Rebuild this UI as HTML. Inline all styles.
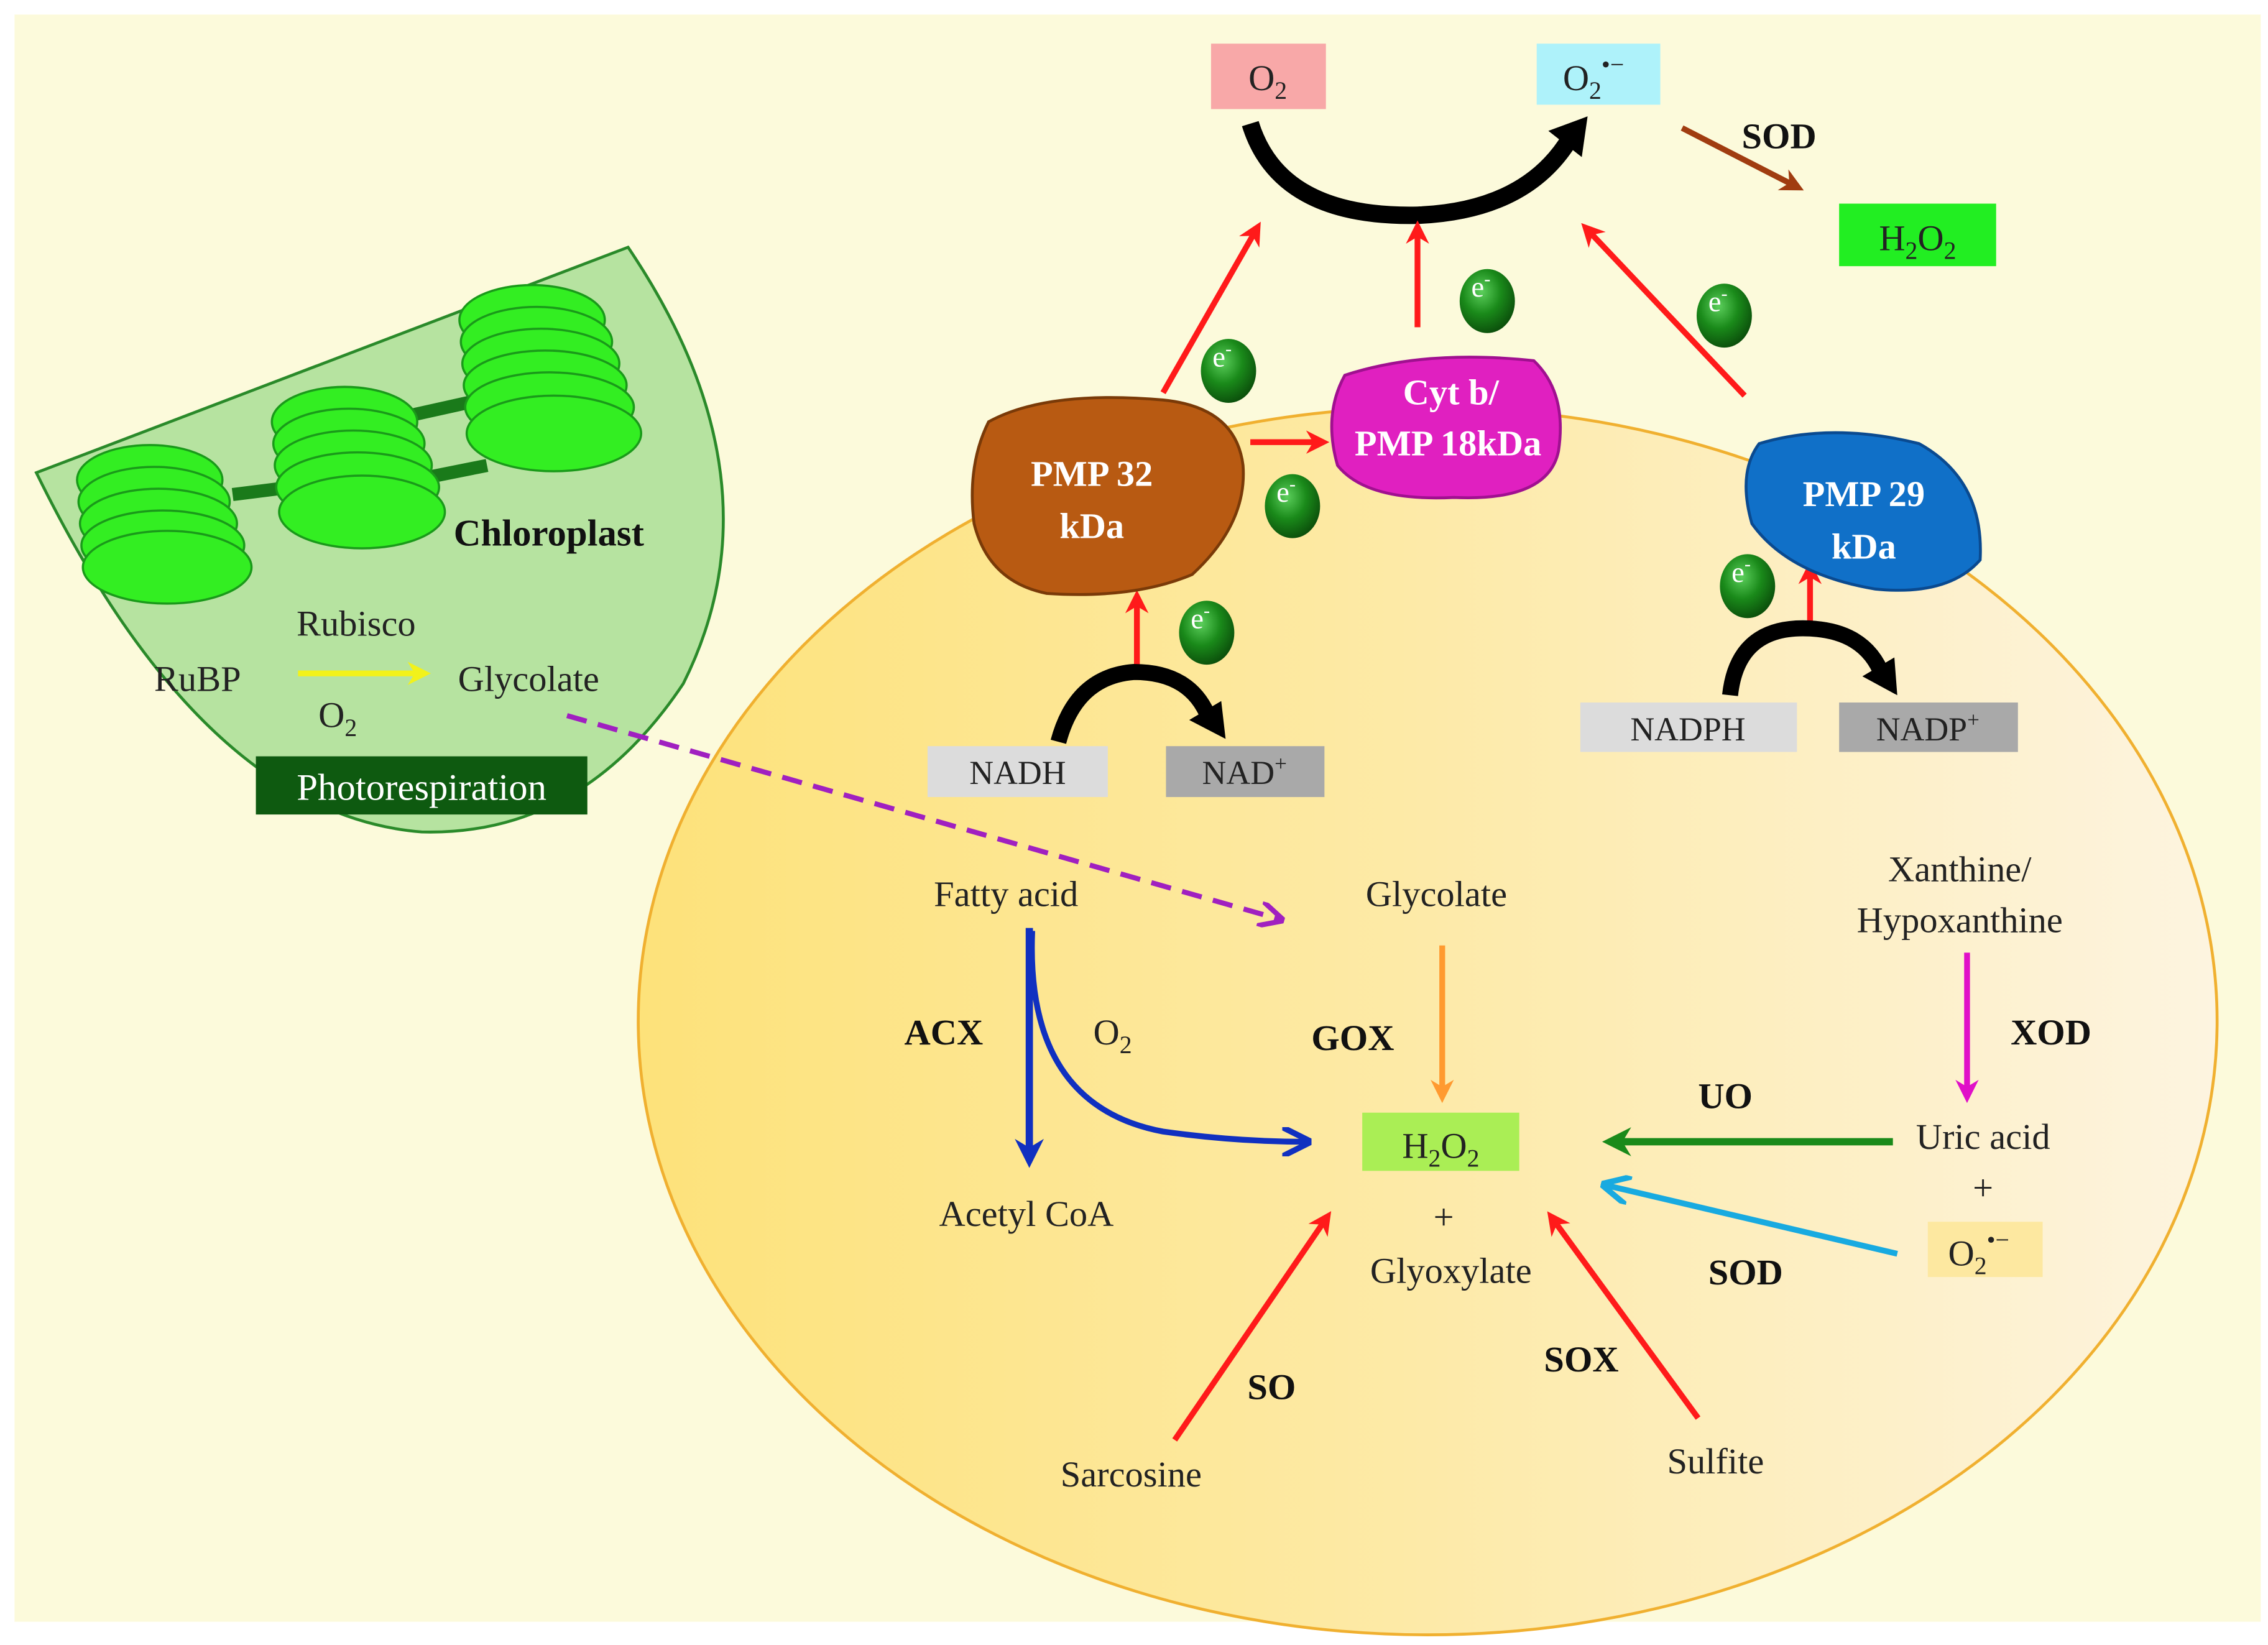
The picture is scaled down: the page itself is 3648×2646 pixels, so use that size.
<!DOCTYPE html>
<html><head><meta charset="utf-8"><style>
html,body{margin:0;padding:0;background:#fff}
svg{display:block}
text{font-family:"Liberation Serif",serif;fill:#222}
.b{font-weight:bold;fill:#111}
</style></head><body>
<svg width="3648" height="2646" viewBox="0 0 1560 1131" preserveAspectRatio="none" xmlns="http://www.w3.org/2000/svg">
<defs>
<linearGradient id="cell" x1="0" x2="1" y1="0" y2="0">
<stop offset="0" stop-color="#fde27a"/><stop offset="0.5" stop-color="#fdeaa8"/><stop offset="1" stop-color="#fdf4e0"/></linearGradient>
<radialGradient id="eg" cx="0.4" cy="0.35" r="0.7"><stop offset="0" stop-color="#5ccf5c"/><stop offset="0.5" stop-color="#1a8a1a"/><stop offset="1" stop-color="#0a4a0a"/></radialGradient>
<marker id="ar" viewBox="0 0 10 10" refX="6" refY="5" markerWidth="4" markerHeight="4" orient="auto-start-reverse"><path d="M0,0 L10,5 L0,10 L3,5z" fill="context-stroke"/></marker>
<marker id="ao" viewBox="0 0 10 10" refX="8" refY="5" markerWidth="5" markerHeight="5" orient="auto"><path d="M0,0 L10,5 L0,10" fill="none" stroke="context-stroke" stroke-width="2"/></marker>
</defs>
<rect x="0" y="0" width="1560" height="1131" fill="#fff"/>
<rect x="10" y="10" width="1545" height="1105" fill="#fcfadb"/>
<ellipse cx="982" cy="702" rx="543" ry="422" fill="url(#cell)" stroke="#f0b030" stroke-width="2"/>
<!-- chloroplast -->
<path d="M25,325 L432,170 Q540,330 470,470 Q400,575 290,572 Q140,560 25,325z" fill="#b6e3a0" stroke="#2a8a2a" stroke-width="2"/>
<g stroke="#1a7a1a" stroke-width="9">
<line x1="160" y1="340" x2="200" y2="335"/><line x1="285" y1="285" x2="330" y2="275"/><line x1="285" y1="330" x2="335" y2="320"/></g>
<g fill="#33ee22" stroke="#1a9a1a" stroke-width="1.5">
<ellipse cx="103" cy="330" rx="50" ry="24"/><ellipse cx="106" cy="345" rx="52" ry="24"/><ellipse cx="109" cy="360" rx="54" ry="24"/><ellipse cx="112" cy="375" rx="56" ry="24"/><ellipse cx="115" cy="390" rx="58" ry="25"/>
<ellipse cx="237" cy="290" rx="50" ry="24"/><ellipse cx="240" cy="305" rx="52" ry="24"/><ellipse cx="243" cy="320" rx="54" ry="24"/><ellipse cx="246" cy="335" rx="56" ry="24"/><ellipse cx="249" cy="352" rx="57" ry="25"/>
<ellipse cx="366" cy="220" rx="50" ry="24"/><ellipse cx="369" cy="235" rx="52" ry="24"/><ellipse cx="372" cy="250" rx="54" ry="24"/><ellipse cx="375" cy="265" rx="56" ry="24"/><ellipse cx="378" cy="280" rx="58" ry="24"/><ellipse cx="381" cy="298" rx="60" ry="26"/></g>
<text x="312" y="375" font-size="26" class="b">Chloroplast</text>
<text x="204" y="437" font-size="25">Rubisco</text>
<text x="106" y="475" font-size="25">RuBP</text>
<text x="315" y="475" font-size="25">Glycolate</text>
<text x="219" y="500" font-size="25">O<tspan font-size="17" dy="6">2</tspan></text>
<line x1="205" y1="463" x2="290" y2="463" stroke="#f2f21a" stroke-width="4" marker-end="url(#ar)"/>
<rect x="176" y="520" width="228" height="40" fill="#0e5a10"/>
<text x="290" y="550" font-size="26" text-anchor="middle" style="fill:#fff">Photorespiration</text>
<path d="M390,492 L880,632" stroke="#a020c0" stroke-width="3.5" stroke-dasharray="14,8" fill="none" marker-end="url(#ao)"/>
<!-- top boxes -->
<rect x="833" y="30" width="79" height="45" fill="#f8a8a8"/>
<text x="872" y="62" font-size="25" text-anchor="middle">O<tspan font-size="17" dy="6">2</tspan></text>
<rect x="1057" y="30" width="85" height="42" fill="#aef2fa"/>
<text x="1075" y="62" font-size="25">O<tspan font-size="17" dy="6">2</tspan><tspan font-size="17" dy="-18">•−</tspan></text>
<path d="M860,85 Q880,150 975,148 Q1050,145 1080,95" stroke="#000" stroke-width="12" fill="none"/>
<path d="M1065,90 L1092,80 L1088,108z" fill="#000"/>
<line x1="1157" y1="88" x2="1235" y2="128" stroke="#a03c10" stroke-width="4" marker-end="url(#ar)"/>
<text x="1198" y="102" font-size="25" class="b">SOD</text>
<rect x="1265" y="140" width="108" height="43" fill="#22ee22"/>
<text x="1319" y="172" font-size="25" text-anchor="middle">H<tspan font-size="17" dy="6">2</tspan><tspan dy="-6">O</tspan><tspan font-size="17" dy="6">2</tspan></text>
<!-- red arrows -->
<g stroke="#ff1a1a" stroke-width="4" fill="none" marker-end="url(#ar)">
<line x1="800" y1="270" x2="864" y2="158"/>
<line x1="975" y1="225" x2="975" y2="158"/>
<line x1="1200" y1="272" x2="1092" y2="158"/>
<line x1="860" y1="304" x2="908" y2="304"/>
<line x1="782" y1="462" x2="782" y2="412"/>
<line x1="1245" y1="430" x2="1245" y2="392"/>
<line x1="808" y1="990" x2="912" y2="838"/>
<line x1="1168" y1="975" x2="1068" y2="838"/>
</g>
<!-- proteins -->
<path d="M680,290 Q720,268 800,275 Q850,280 855,320 Q858,360 820,395 Q780,412 720,408 Q680,400 670,360 Q665,320 680,290z" fill="#b85a12" stroke="#7a3a08" stroke-width="2"/>
<text x="751" y="334" font-size="25" class="b" text-anchor="middle" style="fill:#fff">PMP 32</text>
<text x="751" y="370" font-size="25" class="b" text-anchor="middle" style="fill:#fff">kDa</text>
<path d="M925,258 Q980,240 1055,248 Q1078,270 1072,310 Q1065,345 1000,342 Q940,345 920,320 Q910,285 925,258z" fill="#e020c0" stroke="#a01090" stroke-width="2"/>
<text x="998" y="278" font-size="25" class="b" text-anchor="middle" style="fill:#fff">Cyt b/</text>
<text x="996" y="313" font-size="25" class="b" text-anchor="middle" style="fill:#fff">PMP 18kDa</text>
<path d="M1210,305 Q1260,290 1320,305 Q1365,330 1362,385 Q1340,410 1290,405 Q1230,395 1205,360 Q1195,325 1210,305z" fill="#1070c8" stroke="#0a4a90" stroke-width="2"/>
<text x="1282" y="348" font-size="25" class="b" text-anchor="middle" style="fill:#fff">PMP 29</text>
<text x="1282" y="384" font-size="25" class="b" text-anchor="middle" style="fill:#fff">kDa</text>
<!-- electrons -->
<g>
<ellipse cx="845" cy="255" rx="19" ry="22" fill="url(#eg)"/><ellipse cx="1023" cy="207" rx="19" ry="22" fill="url(#eg)"/>
<ellipse cx="889" cy="348" rx="19" ry="22" fill="url(#eg)"/><ellipse cx="1186" cy="217" rx="19" ry="22" fill="url(#eg)"/>
<ellipse cx="830" cy="435" rx="19" ry="22" fill="url(#eg)"/><ellipse cx="1202" cy="403" rx="19" ry="22" fill="url(#eg)"/>
</g>
<g font-size="20" style="fill:#fff">
<text x="834" y="252" style="fill:#fff">e<tspan font-size="13" dy="-8">-</tspan></text>
<text x="1012" y="204" style="fill:#fff">e<tspan font-size="13" dy="-8">-</tspan></text>
<text x="878" y="345" style="fill:#fff">e<tspan font-size="13" dy="-8">-</tspan></text>
<text x="1175" y="214" style="fill:#fff">e<tspan font-size="13" dy="-8">-</tspan></text>
<text x="819" y="432" style="fill:#fff">e<tspan font-size="13" dy="-8">-</tspan></text>
<text x="1191" y="400" style="fill:#fff">e<tspan font-size="13" dy="-8">-</tspan></text>
</g>
<!-- NADH -->
<path d="M728,510 Q740,465 780,462 Q820,462 832,495" stroke="#000" stroke-width="11" fill="none"/>
<path d="M818,495 L843,508 L840,482z" fill="#000"/>
<rect x="638" y="513" width="124" height="35" fill="#dcdcdc"/>
<text x="700" y="539" font-size="23" text-anchor="middle">NADH</text>
<rect x="802" y="513" width="109" height="35" fill="#a9a9a9"/>
<text x="856" y="539" font-size="23" text-anchor="middle">NAD<tspan font-size="15" dy="-9">+</tspan></text>
<path d="M1190,478 Q1195,432 1240,432 Q1283,432 1295,465" stroke="#000" stroke-width="11" fill="none"/>
<path d="M1281,465 L1305,478 L1303,452z" fill="#000"/>
<rect x="1087" y="483" width="149" height="34" fill="#dcdcdc"/>
<text x="1161" y="509" font-size="23" text-anchor="middle">NADPH</text>
<rect x="1265" y="483" width="123" height="34" fill="#a9a9a9"/>
<text x="1326" y="509" font-size="23" text-anchor="middle">NADP<tspan font-size="15" dy="-9">+</tspan></text>
<!-- lower pathway -->
<text x="692" y="623" font-size="25" text-anchor="middle">Fatty acid</text>
<text x="988" y="623" font-size="25" text-anchor="middle">Glycolate</text>
<text x="1348" y="606" font-size="25" text-anchor="middle">Xanthine/</text>
<text x="1348" y="641" font-size="25" text-anchor="middle">Hypoxanthine</text>
<path d="M708,638 L708,795" stroke="#1030c0" stroke-width="5" fill="none" marker-end="url(#ar)"/>
<path d="M710,640 Q705,760 800,778 Q850,785 898,785" stroke="#1030c0" stroke-width="4" fill="none" marker-end="url(#ao)"/>
<text x="622" y="718" font-size="25" class="b">ACX</text>
<text x="752" y="718" font-size="25">O<tspan font-size="17" dy="6">2</tspan></text>
<text x="706" y="843" font-size="25" text-anchor="middle">Acetyl CoA</text>
<line x1="992" y1="650" x2="992" y2="752" stroke="#ff9a30" stroke-width="4" marker-end="url(#ar)"/>
<text x="902" y="722" font-size="25" class="b">GOX</text>
<rect x="937" y="765" width="108" height="40" fill="#aaee55"/>
<text x="991" y="796" font-size="25" text-anchor="middle">H<tspan font-size="17" dy="6">2</tspan><tspan dy="-6">O</tspan><tspan font-size="17" dy="6">2</tspan></text>
<text x="993" y="845" font-size="25" text-anchor="middle">+</text>
<text x="998" y="882" font-size="25" text-anchor="middle">Glyoxylate</text>
<line x1="1353" y1="655" x2="1353" y2="752" stroke="#e010c8" stroke-width="4" marker-end="url(#ar)"/>
<text x="1383" y="718" font-size="25" class="b">XOD</text>
<text x="1364" y="790" font-size="25" text-anchor="middle">Uric acid</text>
<text x="1364" y="825" font-size="25" text-anchor="middle">+</text>
<line x1="1302" y1="785" x2="1110" y2="785" stroke="#1a8a1a" stroke-width="5" marker-end="url(#ar)"/>
<text x="1168" y="762" font-size="25" class="b">UO</text>
<rect x="1326" y="840" width="79" height="38" fill="#fde8a0"/>
<text x="1340" y="870" font-size="25">O<tspan font-size="17" dy="6">2</tspan><tspan font-size="17" dy="-18">•−</tspan></text>
<line x1="1305" y1="862" x2="1105" y2="815" stroke="#18aae0" stroke-width="4" marker-end="url(#ao)"/>
<text x="1175" y="883" font-size="25" class="b">SOD</text>
<text x="858" y="962" font-size="25" class="b">SO</text>
<text x="1062" y="943" font-size="25" class="b">SOX</text>
<text x="778" y="1022" font-size="25" text-anchor="middle">Sarcosine</text>
<text x="1180" y="1013" font-size="25" text-anchor="middle">Sulfite</text>
</svg>
</body></html>
